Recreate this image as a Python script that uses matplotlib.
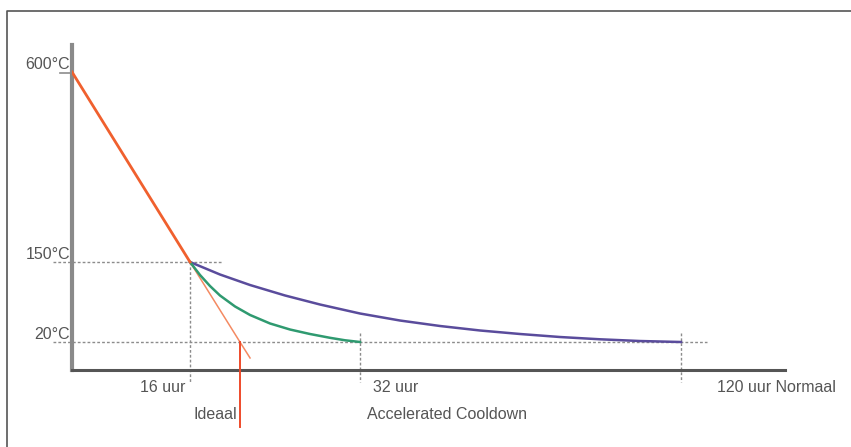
import numpy as np
import matplotlib
matplotlib.use("Agg")
import matplotlib.pyplot as plt
from matplotlib.lines import Line2D

plt.rcParams['font.family'] = ['Liberation Sans', 'DejaVu Sans']

# schematische assen: de uren en graden staan niet op schaal in het origineel
uur_anker = [-20, 0, 16, 32, 120, 200]
uur_pos = [-75.5, 72, 190, 360, 681, 972.8]
temp_anker = [-60, 0, 20, 150, 600, 800]
temp_pos = [-7, 77, 105, 185, 375, 459.4]

# curves (uur, graden C)
afkoel_uur = [0, 16]
afkoel_temp = [600, 150]
ideaal_uur = [16, 20.7, 21.65]
ideaal_temp = [150, 20, 8.6]
versneld_uur = [16, 16.94, 17.88, 18.82, 20.24, 21.65, 23.53, 25.41, 27.29,
                29.18, 30.59, 32]
versneld_temp = [150, 128.9, 111, 95.6, 77.7, 63.9, 50.1, 40.3, 33,
                 26.8, 22.8, 20]
normaal_uur = [16, 18.82, 21.65, 24.94, 28.24, 32, 42.97, 53.93, 64.9,
               75.86, 86.83, 97.79, 108.76, 120]
normaal_temp = [150, 129.7, 112.6, 95.6, 80.9, 66.3, 54.9, 46, 38.7,
                33, 28.1, 24.4, 21.6, 20]

temp_labels = ['600°C', '150°C', '20°C']
temp_waarden = [600, 150, 20]


def fwd_x(v):
    return np.interp(v, uur_anker, uur_pos)


def inv_x(v):
    return np.interp(v, uur_pos, uur_anker)


def fwd_y(v):
    return np.interp(v, temp_anker, temp_pos)


def inv_y(v):
    return np.interp(v, temp_pos, temp_anker)


fig = plt.figure(figsize=(8.51, 4.47), dpi=100)
ax = fig.add_axes([72 / 851, 77 / 447, (785 - 72) / 851, (370 - 45) / 447])
ax.set_xscale('function', functions=(fwd_x, inv_x))
ax.set_yscale('function', functions=(fwd_y, inv_y))
ax.set_xlim(0, 148.5)
ax.set_ylim(0, 664)

for s in ['top', 'right']:
    ax.spines[s].set_visible(False)
ax.spines['left'].set_color('#8a8a8a')
ax.spines['left'].set_linewidth(3)
ax.spines['bottom'].set_color('#555555')
ax.spines['bottom'].set_linewidth(2.2)
ax.set_xticks([])
ax.set_yticks([])

grijs = dict(color='#8c8c8c', lw=1.0, ls=(0, (2, 1.5)), clip_on=False, zorder=1)
# hulplijnen
ax.plot([-2.58, 19.0], [150, 150], **grijs)
ax.plot([-2.58, 127.1], [20, 20], **grijs)
ax.plot([16, 16], [150, -8.6], **grijs)
ax.plot([32, 32], [34.6, -8.6], **grijs)
ax.plot([120, 120], [34.6, -8.6], **grijs)
ax.plot([-1.6, 0], [598, 598], color='#8c8c8c', lw=1.2, clip_on=False)

ax.plot(normaal_uur, normaal_temp, color='#5a4c9c', lw=1.8, zorder=3)
ax.plot(versneld_uur, versneld_temp, color='#2f9a70', lw=1.8, zorder=3)
ax.plot(ideaal_uur, ideaal_temp, color='#f48a62', lw=1.1, zorder=2, clip_on=False)
ax.plot(afkoel_uur, afkoel_temp, color='#f0602e', lw=2.0, zorder=4)
ax.plot([ideaal_uur[1], ideaal_uur[1]], [20, -40.7], color='#ee4a2a', lw=1.4,
        clip_on=False, zorder=4)

fs = 11.5
for lab, t in zip(temp_labels, temp_waarden):
    ax.annotate(lab, (0, t), xytext=(-1.5, 2.5), textcoords='offset points',
                ha='right', va='baseline', fontsize=fs, color='#555555')

ax.annotate('16 uur', (16, 0), xytext=(-3, -16), textcoords='offset points',
            ha='right', va='baseline', fontsize=fs, color='#555555', annotation_clip=False)
ax.annotate('32 uur', (32, 0), xytext=(9, -16), textcoords='offset points',
            ha='left', va='baseline', fontsize=fs, color='#555555', annotation_clip=False)
ax.annotate('120 uur Normaal', (120, 0), xytext=(26, -16), textcoords='offset points',
            ha='left', va='baseline', fontsize=fs, color='#555555', annotation_clip=False)
ax.annotate('Ideaal', (ideaal_uur[1], 0), xytext=(-2, -35), textcoords='offset points',
            ha='right', va='baseline', fontsize=fs, color='#555555', annotation_clip=False)
ax.annotate('Accelerated Cooldown', (32, 0), xytext=(5, -35), textcoords='offset points',
            ha='left', va='baseline', fontsize=fs, color='#555555', annotation_clip=False)

# kader links en boven
fig.add_artist(Line2D([7 / 851, 7 / 851, 1], [0, 1 - 11 / 447, 1 - 11 / 447],
                      color='#555555', lw=1.2))

fig.savefig('out.png', dpi=100)
